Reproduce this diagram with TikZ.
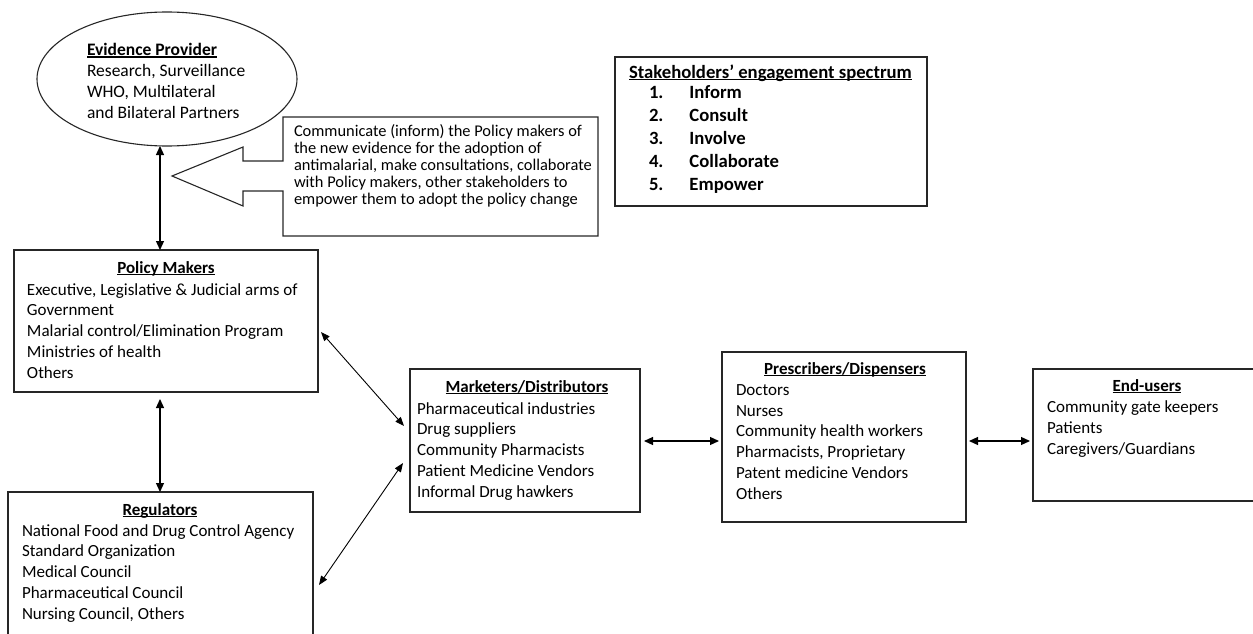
\documentclass[tikz,border=0pt]{standalone}
\usepackage{fontspec}
\setmainfont{Carlito}
\usetikzlibrary{arrows.meta,shapes.geometric}
\newcommand{\hdr}[1]{\setbox0=\hbox{\bfseries #1}\rlap{\rule[-2.2pt]{\wd0}{1.2pt}}\box0}
\begin{document}
\begin{tikzpicture}[x=1pt,y=-1pt,
  every node/.style={inner sep=0pt, outer sep=0pt},
  box/.style={draw=black!85, line width=1.2pt, rectangle, anchor=north west},
  body/.style={font=\fontsize{17}{20.75}\selectfont, align=left, anchor=base west},
  head/.style={font=\fontsize{17}{20.75}\selectfont, anchor=base},
  arr/.style={line width=1.2pt, {Triangle[length=9pt,width=8pt]}-{Triangle[length=9pt,width=8pt]}},
  darr/.style={line width=0.9pt, {Triangle[length=9pt,width=7pt]}-{Triangle[length=9pt,width=7pt]}}
]
\useasboundingbox (0,0) rectangle (1253,634);
\clip (0,0) rectangle (1253,634);

% Evidence provider (base anchor = last line's baseline)
\node[draw=black!85, line width=1.1pt, ellipse, minimum width=260, minimum height=134] (ev) at (167,79) {};
\node[body, font=\fontsize{17.5}{20.9}\selectfont] (evt) at (87,118) {\hdr{Evidence Provider}\\Research, Surveillance\\WHO, Multilateral\\and Bilateral Partners};

% callout arrow
\draw[line width=1.1pt, draw=black!85] (283,117) -- (598,117) -- (598,236) -- (283,236) -- (283,191) -- (243,191) -- (243,206) -- (172,176) -- (243,147) -- (243,161) -- (283,161) -- cycle;
\node[body, font=\fontsize{16.4}{17}\selectfont] (cot) at (294,204) {Communicate (inform) the Policy makers of\\the new evidence for the adoption of\\antimalarial, make consultations, collaborate\\with Policy makers, other stakeholders to\\empower them to adopt the policy change};

% stakeholders spectrum
\node[box, minimum width=312, minimum height=149] (sk) at (615,57) {};
\node[body, font=\fontsize{18.7}{22.9}\bfseries] (skh) at (629,78) {\hdr{Stakeholders’ engagement spectrum}};
\node[anchor=base west, font=\fontsize{18.7}{22.9}\bfseries] (skl) at (649,99) {\begin{tabular}[t]{@{}l@{\hspace{26pt}}l@{}}1.&Inform\\2.&Consult\\3.&Involve\\4.&Collaborate\\5.&Empower\end{tabular}};

% policy makers
\node[box, minimum width=304, minimum height=142] (pm) at (14,250) {};
\node[head] (pmh) at (166,273) {\hdr{Policy Makers}};
\node[body] (pmt) at (27,378) {Executive, Legislative \& Judicial arms of\\Government\\Malarial control/Elimination Program\\Ministries of health\\Others};

% regulators
\node[box, minimum width=305, minimum height=160] (rg) at (8,492) {};
\node[head] (rgh) at (160,515) {\hdr{Regulators}};
\node[body] (rgt) at (22,619) {National Food and Drug Control Agency\\Standard Organization\\Medical Council\\Pharmaceutical Council\\Nursing Council, Others};

% marketers
\node[box, minimum width=230, minimum height=143] (mk) at (410,369) {};
\node[head] (mkh) at (527,392) {\hdr{Marketers/Distributors}};
\node[body] (mkt) at (417,497) {Pharmaceutical industries\\Drug suppliers\\Community Pharmacists\\Patient Medicine Vendors\\Informal Drug hawkers};

% prescribers
\node[box, minimum width=244, minimum height=170] (pr) at (722,352) {};
\node[head] (prh) at (845,374) {\hdr{Prescribers/Dispensers}};
\node[body] (prt) at (736,499) {Doctors\\Nurses\\Community health workers\\Pharmacists, Proprietary\\Patent medicine Vendors\\Others};

% end users
\node[box, minimum width=230, minimum height=132] (eu) at (1033,369) {};
\node[head] (euh) at (1147,391) {\hdr{End-users}};
\node[body] (eut) at (1047,454) {Community gate keepers\\Patients\\Caregivers/Guardians};

% connectors
\draw[arr] ([xshift=-7pt]ev.south) -- ([xshift=-6pt]pm.north);
\draw[arr] ([xshift=-6pt,yshift=-7pt]pm.south) -- ([xshift=-0.5pt]rg.north);
\draw[darr] ([xshift=3pt,yshift=-11pt]pm.east) -- ([xshift=-6pt,yshift=14.5pt]mk.west);
\draw[darr] ([xshift=6pt,yshift=-13pt]rg.east) -- ([xshift=-7pt,yshift=-22.5pt]mk.west);
\draw[arr] ([xshift=4pt,yshift=-0.5pt]mk.east) -- ([xshift=-3pt,yshift=-0.5pt]mk.east -| pr.west);
\draw[arr] ([xshift=3pt,yshift=-4pt]pr.east) -- ([xshift=-3pt,yshift=-4pt]pr.east -| eu.west);
\end{tikzpicture}
\end{document}
